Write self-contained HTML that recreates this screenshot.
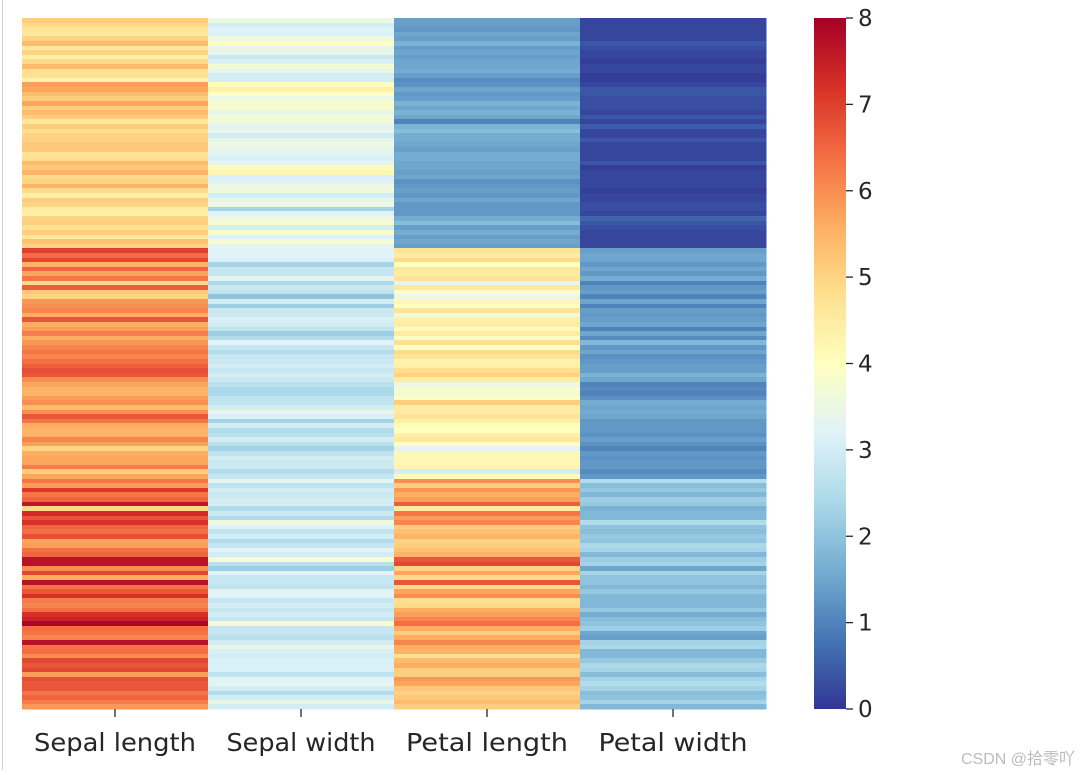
<!DOCTYPE html>
<html><head><meta charset="utf-8">
<style>
html,body{margin:0;padding:0;background:#fff;width:1080px;height:775px;overflow:hidden}
svg{display:block}
text{font-family:"DejaVu Sans","Liberation Sans",sans-serif;fill:#262626}
</style></head>
<body>
<svg id="chart" width="1080" height="775" viewBox="0 0 1080 775" xmlns="http://www.w3.org/2000/svg">
<line x1="2.5" y1="0" x2="2.5" y2="770" stroke="#d0d0d0" stroke-width="1"/>
<g id="cells" shape-rendering="crispEdges"></g>
<g id="xaxis"></g>
<defs><linearGradient id="cbg" x1="0" y1="1" x2="0" y2="0"></linearGradient></defs>
<rect x="814" y="18" width="32" height="691" fill="url(#cbg)"/>
<g id="cbaxis"></g>
<text x="1075" y="764" text-anchor="end" style="font-family:'Liberation Sans','Noto Sans CJK SC',sans-serif;font-size:16px;fill:#bbbbbb">CSDN @拾零吖</text>
</svg>
<script>
const categories = ["Sepal length","Sepal width","Petal length","Petal width"];
const sepalLength = [5.1,4.9,4.7,4.6,5.0,5.4,4.6,5.0,4.4,4.9,5.4,4.8,4.8,4.3,5.8,5.7,5.4,5.1,5.7,5.1,5.4,5.1,4.6,5.1,4.8,5.0,5.0,5.2,5.2,4.7,4.8,5.4,5.2,5.5,4.9,5.0,5.5,4.9,4.4,5.1,5.0,4.5,4.4,5.0,5.1,4.8,5.1,4.6,5.3,5.0,
7.0,6.4,6.9,5.5,6.5,5.7,6.3,4.9,6.6,5.2,5.0,5.9,6.0,6.1,5.6,6.7,5.6,5.8,6.2,5.6,5.9,6.1,6.3,6.1,6.4,6.6,6.8,6.7,6.0,5.7,5.5,5.5,5.8,6.0,5.4,6.0,6.7,6.3,5.6,5.5,5.5,6.1,5.8,5.0,5.6,5.7,5.7,6.2,5.1,5.7,
6.3,5.8,7.1,6.3,6.5,7.6,4.9,7.3,6.7,7.2,6.5,6.4,6.8,5.7,5.8,6.4,6.5,7.7,7.7,6.0,6.9,5.6,7.7,6.3,6.7,7.2,6.2,6.1,6.4,7.2,7.4,7.9,6.4,6.3,6.1,7.7,6.3,6.4,6.0,6.9,6.7,6.9,5.8,6.8,6.7,6.7,6.3,6.5,6.2,5.9];
const sepalWidth = [3.5,3.0,3.2,3.1,3.6,3.9,3.4,3.4,2.9,3.1,3.7,3.4,3.0,3.0,4.0,4.4,3.9,3.5,3.8,3.8,3.4,3.7,3.6,3.3,3.4,3.0,3.4,3.5,3.4,3.2,3.1,3.4,4.1,4.2,3.1,3.2,3.5,3.6,3.0,3.4,3.5,2.3,3.2,3.5,3.8,3.0,3.8,3.2,3.7,3.3,
3.2,3.2,3.1,2.3,2.8,2.8,3.3,2.4,2.9,2.7,2.0,3.0,2.2,2.9,2.9,3.1,3.0,2.7,2.2,2.5,3.2,2.8,2.5,2.8,2.9,3.0,2.8,3.0,2.9,2.6,2.4,2.4,2.7,2.7,3.0,3.4,3.1,2.3,3.0,2.5,2.6,3.0,2.6,2.3,2.7,3.0,2.9,2.9,2.5,2.8,
3.3,2.7,3.0,2.9,3.0,3.0,2.5,2.9,2.5,3.6,3.2,2.7,3.0,2.5,2.8,3.2,3.0,3.8,2.6,2.2,3.2,2.8,2.8,2.7,3.3,3.2,2.8,3.0,2.8,3.0,2.8,3.8,2.8,2.8,2.6,3.0,3.4,3.1,3.0,3.1,3.1,3.1,2.7,3.2,3.3,3.0,2.5,3.0,3.4,3.0];
const petalLength = [1.4,1.4,1.3,1.5,1.4,1.7,1.4,1.5,1.4,1.5,1.5,1.6,1.4,1.1,1.2,1.5,1.3,1.4,1.7,1.5,1.7,1.5,1.0,1.7,1.9,1.6,1.6,1.5,1.4,1.6,1.6,1.5,1.5,1.4,1.5,1.2,1.3,1.4,1.3,1.5,1.3,1.3,1.3,1.6,1.9,1.4,1.6,1.4,1.5,1.4,
4.7,4.5,4.9,4.0,4.6,4.5,4.7,3.3,4.6,3.9,3.5,4.2,4.0,4.7,3.6,4.4,4.5,4.1,4.5,3.9,4.8,4.0,4.9,4.7,4.3,4.4,4.8,5.0,4.5,3.5,3.8,3.7,3.9,5.1,4.5,4.5,4.7,4.4,4.1,4.0,4.4,4.6,4.0,3.3,4.2,4.2,4.2,4.3,3.0,4.1,
6.0,5.1,5.9,5.6,5.8,6.6,4.5,6.3,5.8,6.1,5.1,5.3,5.5,5.0,5.1,5.3,5.5,6.7,6.9,5.0,5.7,4.9,6.7,4.9,5.7,6.0,4.8,4.9,5.6,5.8,6.1,6.4,5.6,5.1,5.6,6.1,5.6,5.5,4.8,5.4,5.6,5.1,5.1,5.9,5.7,5.2,5.0,5.2,5.4,5.1];
const petalWidth = [0.2,0.2,0.2,0.2,0.2,0.4,0.3,0.2,0.2,0.1,0.2,0.2,0.1,0.1,0.2,0.4,0.4,0.3,0.3,0.3,0.2,0.4,0.2,0.5,0.2,0.2,0.4,0.2,0.2,0.2,0.2,0.4,0.1,0.2,0.2,0.2,0.2,0.1,0.2,0.2,0.3,0.3,0.2,0.6,0.4,0.3,0.2,0.2,0.2,0.2,
1.4,1.5,1.5,1.3,1.5,1.3,1.6,1.0,1.3,1.4,1.0,1.5,1.0,1.4,1.3,1.4,1.5,1.0,1.5,1.1,1.8,1.3,1.5,1.2,1.3,1.4,1.4,1.7,1.5,1.0,1.1,1.0,1.2,1.6,1.5,1.6,1.5,1.3,1.3,1.3,1.2,1.4,1.2,1.0,1.3,1.2,1.3,1.3,1.1,1.3,
2.5,1.9,2.1,1.8,2.2,2.1,1.7,1.8,1.8,2.5,2.0,1.9,2.1,2.0,2.4,2.3,1.8,2.2,2.3,1.5,2.3,2.0,2.0,1.8,2.1,1.8,1.8,1.8,2.1,1.6,1.9,2.0,2.2,1.5,1.4,2.3,2.4,1.8,1.8,2.1,2.4,2.3,1.9,2.3,2.5,2.3,1.9,2.0,2.3,1.8];
const colorbarTicks = [0,1,2,3,4,5,6,7,8];
const vmin = 0, vmax = 8;

const NS = "http://www.w3.org/2000/svg";
const X0 = 22, X1 = 766, Y0 = 18, Y1 = 709;
const columns = [sepalLength, sepalWidth, petalLength, petalWidth];
const nRows = sepalLength.length;
const colW = (X1 - X0) / categories.length;
const rowH = (Y1 - Y0) / nRows;
const xScale = i => X0 + i * colW;
const yScale = r => Y0 + r * rowH;
const stops = ["#313695","#4575b4","#74add1","#abd9e9","#e0f3f8","#ffffbf","#fee090","#fdae61","#f46d43","#d73027","#a50026"];
function hex(h){return [1,3,5].map(k=>parseInt(h.substr(k,2),16));}
function cmap(v){
  let t = Math.max(0, Math.min(1, (v - vmin) / (vmax - vmin))) * (stops.length - 1);
  let i = Math.min(Math.floor(t), stops.length - 2), f = t - i;
  const a = hex(stops[i]), b = hex(stops[i+1]);
  return "rgb(" + a.map((c,k)=>Math.round(c + (b[k]-c)*f)).join(",") + ")";
}
const cells = document.getElementById("cells");
columns.forEach((col, ci) => {
  col.forEach((v, r) => {
    const el = document.createElementNS(NS, "rect");
    
    
    const y0 = Math.round(yScale(r)), y1 = Math.round(yScale(r + 1));
    el.setAttribute("x", xScale(ci));
    el.setAttribute("y", y0);
    el.setAttribute("width", colW + 0.5);
    el.setAttribute("height", y1 - y0 + 0.5);
    el.setAttribute("fill", cmap(v));
    cells.appendChild(el);
  });
});
const xaxis = document.getElementById("xaxis");
categories.forEach((c, i) => {
  const cx = xScale(i + 0.5);
  const t = document.createElementNS(NS, "line");
  
  
  t.setAttribute("x1", cx); t.setAttribute("x2", cx);
  t.setAttribute("y1", Y1); t.setAttribute("y2", Y1 + 8);
  t.setAttribute("stroke", "#262626"); t.setAttribute("stroke-width", "1.3");
  xaxis.appendChild(t);
  const tx = document.createElementNS(NS, "text");
  
  
  tx.setAttribute("x", cx); tx.setAttribute("y", 751);
  tx.setAttribute("text-anchor", "middle");
  tx.setAttribute("font-size", "25");
  tx.setAttribute("textLength", Math.round(c.length * 13.5));
  tx.setAttribute("lengthAdjust", "spacingAndGlyphs");
  tx.textContent = c;
  xaxis.appendChild(tx);
});
const grad = document.getElementById("cbg");
stops.forEach((s, i) => {
  const st = document.createElementNS(NS, "stop");
  st.setAttribute("offset", (i / (stops.length - 1)));
  st.setAttribute("stop-color", s);
  grad.appendChild(st);
});
const cbaxis = document.getElementById("cbaxis");
const cbScale = v => Y1 - (v - vmin) / (vmax - vmin) * (Y1 - Y0);
colorbarTicks.forEach(v => {
  const y = cbScale(v);
  const t = document.createElementNS(NS, "line");
  
  
  t.setAttribute("x1", 846); t.setAttribute("x2", 853);
  t.setAttribute("y1", y); t.setAttribute("y2", y);
  t.setAttribute("stroke", "#262626"); t.setAttribute("stroke-width", "1.3");
  cbaxis.appendChild(t);
  const tx = document.createElementNS(NS, "text");
  
  
  tx.setAttribute("x", 858); tx.setAttribute("y", y + 8);
  tx.setAttribute("font-size", "23");
  tx.textContent = v;
  cbaxis.appendChild(tx);
});
</script>
</body></html>
